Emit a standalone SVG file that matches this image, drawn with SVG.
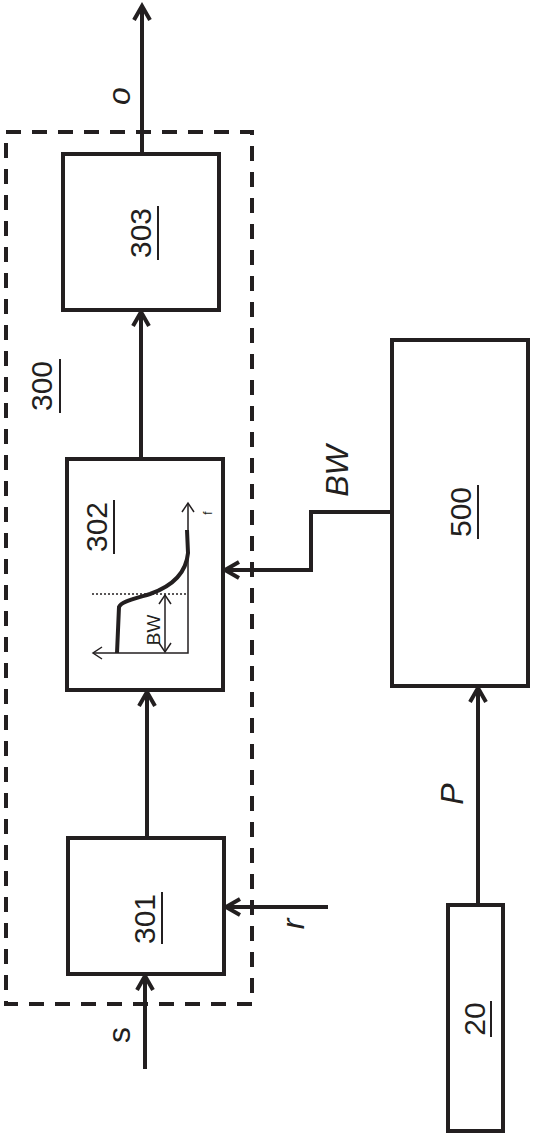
<svg xmlns="http://www.w3.org/2000/svg" width="536" height="1139" viewBox="0 0 536 1139">
<defs>
<style>
.box{fill:#fff;stroke:#231f20;stroke-width:4}
.ln{fill:none;stroke:#231f20;stroke-width:4}
.thin{fill:none;stroke:#231f20;stroke-width:1.5}
.num{font-family:"Liberation Sans",Arial,sans-serif;font-size:30px;fill:#231f20;text-anchor:middle}
.lab{font-family:"Liberation Sans",Arial,sans-serif;font-size:32px;fill:#231f20;text-anchor:middle}
.it{font-style:italic}
.ul{stroke:#231f20;stroke-width:2}
</style>
<marker id="arr" markerUnits="userSpaceOnUse" viewBox="-20 -12 24 24" refX="0" refY="0" markerWidth="24" markerHeight="24" orient="auto">
<path d="M-14,-8 L0,0 L-14,8" fill="none" stroke="#231f20" stroke-width="4" stroke-linejoin="miter"/>
</marker>
<marker id="sarr" markerUnits="userSpaceOnUse" viewBox="-12 -8 14 16" refX="0" refY="0" markerWidth="14" markerHeight="16" orient="auto-start-reverse">
<path d="M-9,-6 L0,0 L-9,6" fill="none" stroke="#231f20" stroke-width="1.5"/>
</marker>
</defs>
<rect width="536" height="1139" fill="#fff"/>

<g id="group300">
<rect x="6" y="132" width="246" height="872" fill="none" stroke="#231f20" stroke-width="4" stroke-dasharray="15,11"/>
<text class="num" transform="translate(52,386) rotate(-90)">300</text>
<line class="ul" x1="60" y1="359" x2="60" y2="413"/>
</g>

<g id="connectors">
<line class="ln" x1="142" y1="154" x2="142" y2="6" marker-end="url(#arr)"/>
<line class="ln" x1="141" y1="459" x2="141" y2="312" marker-end="url(#arr)"/>
<line class="ln" x1="147" y1="838" x2="147" y2="692" marker-end="url(#arr)"/>
<line class="ln" x1="145" y1="1069" x2="145" y2="976" marker-end="url(#arr)"/>
<line class="ln" x1="328" y1="907" x2="226" y2="907" marker-end="url(#arr)"/>
<polyline class="ln" points="392,512 311,512 311,570 225,570" marker-end="url(#arr)"/>
<line class="ln" x1="478" y1="905" x2="478" y2="688" marker-end="url(#arr)"/>
<text class="lab it" transform="translate(130,96) rotate(-90)">o</text>
<text class="lab" transform="translate(130,1035) rotate(-90)">s</text>
<text class="lab it" transform="translate(304,924) rotate(-90)">r</text>
<text class="lab it" transform="translate(348,471) rotate(-90)">BW</text>
<text class="lab it" transform="translate(463,794) rotate(-90)">P</text>
</g>

<g id="n303">
<rect class="box" x="63" y="154" width="156" height="156"/>
<text class="num" transform="translate(151,233) rotate(-90)">303</text>
<line class="ul" x1="158" y1="206" x2="158" y2="260"/>
</g>

<g id="n302">
<rect class="box" x="67" y="459" width="156" height="231"/>
<text class="num" transform="translate(107,527) rotate(-90)">302</text>
<line class="ul" x1="114" y1="500" x2="114" y2="554"/>
<polyline class="thin" points="188,503 188,653 93,653" marker-start="url(#sarr)" marker-end="url(#sarr)"/>
<line x1="92" y1="594" x2="188" y2="594" stroke="#231f20" stroke-width="1.5" stroke-dasharray="2,2"/>
<line class="thin" x1="165" y1="595" x2="165" y2="652" marker-start="url(#sarr)" marker-end="url(#sarr)"/>
<path class="ln" d="M117,653 L119,607 C121,602 130,600 150,594 C170,587 186,575 188,553 L187,530"/>
<text transform="translate(160,630) rotate(-90)" font-family="'Liberation Sans',Arial,sans-serif" font-size="19" fill="#231f20" text-anchor="middle">BW</text>
<text transform="translate(212,513) rotate(-90)" font-family="'Liberation Sans',Arial,sans-serif" font-size="12" fill="#231f20" text-anchor="middle">f</text>
</g>

<g id="n301">
<rect class="box" x="68" y="838" width="156" height="136"/>
<text class="num" transform="translate(155,919) rotate(-90)">301</text>
<line class="ul" x1="162" y1="892" x2="162" y2="944"/>
</g>

<g id="n500">
<rect class="box" x="392" y="340" width="136" height="346"/>
<text class="num" transform="translate(471,512) rotate(-90)">500</text>
<line class="ul" x1="478" y1="485" x2="478" y2="539"/>
</g>

<g id="n20">
<rect class="box" x="448" y="905" width="55" height="226"/>
<text class="num" transform="translate(485,1019) rotate(-90)">20</text>
<line class="ul" x1="491" y1="1001" x2="491" y2="1037"/>
</g>
</svg>
